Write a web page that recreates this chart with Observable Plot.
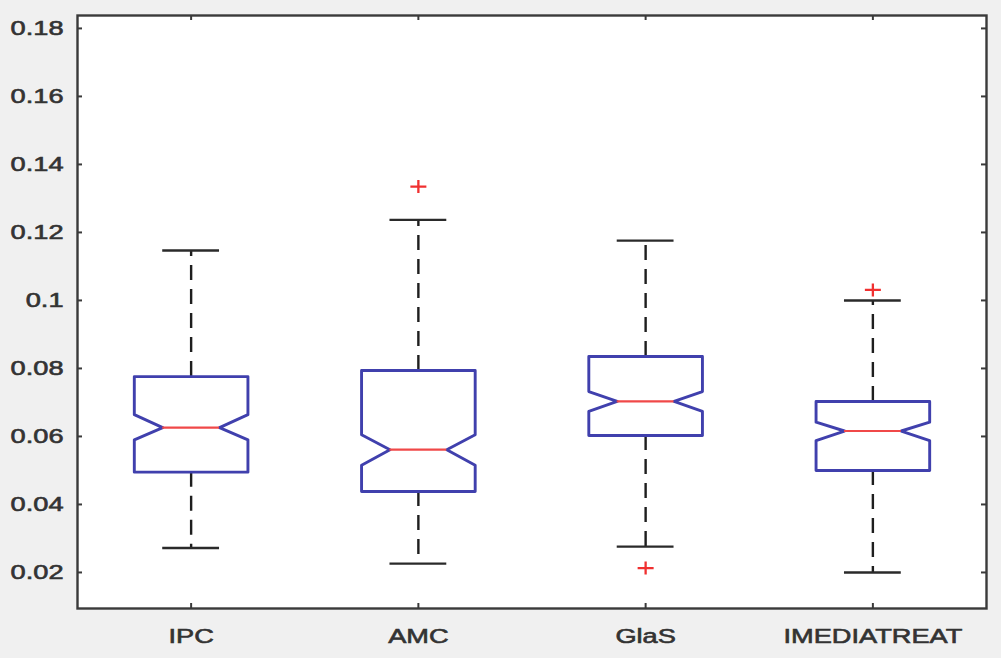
<!DOCTYPE html>
<html>
<head>
<meta charset="utf-8">
<script src="https://cdn.jsdelivr.net/npm/d3@7"></script>
<script src="https://cdn.jsdelivr.net/npm/@observablehq/plot@0.6"></script>
<style>
  html, body { margin: 0; padding: 0; background: #f0f0f0; }
  #chart svg { display: block; }
</style>
</head>
<body>
<div id="chart"></div>
<script>
// ---- data ----
const categories = ["IPC", "AMC", "GlaS", "IMEDIATREAT"];
const whiskerLow  = [0.0272, 0.0226, 0.0276, 0.0200];
const q1          = [0.0495, 0.0438, 0.0603, 0.0500];
const notchLow    = [0.0590, 0.0515, 0.0674, 0.0588];
const median      = [0.0626, 0.0561, 0.0703, 0.0616];
const notchHigh   = [0.0664, 0.0605, 0.0732, 0.0642];
const q3          = [0.0776, 0.0794, 0.0835, 0.0703];
const whiskerHigh = [0.1147, 0.1237, 0.1176, 0.1000];
const outlierCategory = ["AMC", "GlaS", "IMEDIATREAT"];
const outlierValue    = [0.1335, 0.0213, 0.1031];
const yTicks = [0.02, 0.04, 0.06, 0.08, 0.1, 0.12, 0.14, 0.16, 0.18];

// ---- derived tables ----
const pos = c => categories.indexOf(c) + 1;
const boxW = 0.25, notchW = 0.125, capW = 0.125;

const boxPts = [];
categories.forEach((c, i) => {
  const x = i + 1;
  const pts = [
    [x - boxW, q1[i]], [x - boxW, notchLow[i]], [x - notchW, median[i]],
    [x - boxW, notchHigh[i]], [x - boxW, q3[i]], [x + boxW, q3[i]],
    [x + boxW, notchHigh[i]], [x + notchW, median[i]], [x + boxW, notchLow[i]],
    [x + boxW, q1[i]], [x - boxW, q1[i]]
  ];
  pts.forEach(([px, py]) => boxPts.push({cat: c, x: px, y: py}));
});
const stats = categories.map((c, i) => ({
  cat: c, x: i + 1, wl: whiskerLow[i], q1: q1[i], med: median[i], q3: q3[i], wh: whiskerHigh[i]
}));
const outliers = outlierCategory.map((c, i) => ({x: pos(c), y: outlierValue[i]}));

const plusSymbol = {
  draw(ctx) {
    ctx.moveTo(-8, 0); ctx.lineTo(8, 0);
    ctx.moveTo(0, -6.5); ctx.lineTo(0, 6.5);
  }
};

const W = 1001, H = 658, mL = 77, mR = 15, mT = 15, mB = 50;
const innerW = W - mL - mR, innerH = H - mT - mB;
const frameColor = "#3a3a3a";
const textColor = "#333333";

const chart = Plot.plot({
  width: W, height: H,
  marginLeft: mL, marginRight: mR, marginTop: mT, marginBottom: mB,
  style: {background: "transparent", fontFamily: "'Liberation Sans', Arial, sans-serif", fontSize: "20px", color: textColor},
  x: {domain: [0.5, 4.5], label: null},
  y: {domain: [0.0094, 0.1838], label: null},
  marks: [
    Plot.frame({fill: "white"}),
    // whiskers (dashed)
    Plot.ruleX(stats, {x: "x", y1: "q3", y2: "wh", stroke: "#1e1e1e", strokeWidth: 2.4, strokeDasharray: "15,9"}),
    Plot.ruleX(stats, {x: "x", y1: "q1", y2: "wl", stroke: "#1e1e1e", strokeWidth: 2.4, strokeDasharray: "15,9"}),
    // caps
    Plot.ruleY(stats, {y: "wh", x1: d => d.x - capW, x2: d => d.x + capW, stroke: "#2a2a2a", strokeWidth: 2.4}),
    Plot.ruleY(stats, {y: "wl", x1: d => d.x - capW, x2: d => d.x + capW, stroke: "#2a2a2a", strokeWidth: 2.4}),
    // notched boxes
    Plot.line(boxPts, {x: "x", y: "y", z: "cat", stroke: "#4040ad", strokeWidth: 2.9, strokeLinejoin: "round"}),
    // medians
    Plot.ruleY(stats, {y: "med", x1: d => d.x - notchW, x2: d => d.x + notchW, stroke: "#f04848", strokeWidth: 2.2}),
    // outliers
    Plot.dot(outliers, {x: "x", y: "y", symbol: plusSymbol, stroke: "#f03030", strokeWidth: 2.3}),
    // inward ticks
    Plot.ruleY(yTicks, {y: d => d, insetRight: innerW - 5, stroke: frameColor, strokeWidth: 2}),
    Plot.ruleY(yTicks, {y: d => d, insetLeft: innerW - 5, stroke: frameColor, strokeWidth: 2}),
    Plot.ruleX([1, 2, 3, 4], {x: d => d, insetTop: innerH - 5, stroke: frameColor, strokeWidth: 2}),
    Plot.ruleX([1, 2, 3, 4], {x: d => d, insetBottom: innerH - 5, stroke: frameColor, strokeWidth: 2}),
    Plot.axisY({ticks: yTicks, tickSize: 0, tickPadding: 14, label: null,
      tickFormat: d => String(+d.toFixed(2)), fill: textColor}),
    Plot.axisX({ticks: [1, 2, 3, 4], tickSize: 0, tickPadding: 20, label: null,
      tickFormat: d => categories[d - 1], fill: textColor}),
    Plot.frame({stroke: frameColor, strokeWidth: 2.4})
  ]
});

// horizontally stretch (and slightly embolden) the tick label text, as in the reference
d3.select(chart).selectAll('g[aria-label="y-axis tick label"] text, g[aria-label="x-axis tick label"] text')
  .each(function() {
    const t = this.getAttribute("transform") || "";
    this.setAttribute("transform", t + " scale(1.36,1)");
    this.style.stroke = textColor;
    this.style.strokeWidth = "0.6px";
    this.style.paintOrder = "normal";
  });

document.getElementById("chart").appendChild(chart);
</script>
</body>
</html>
